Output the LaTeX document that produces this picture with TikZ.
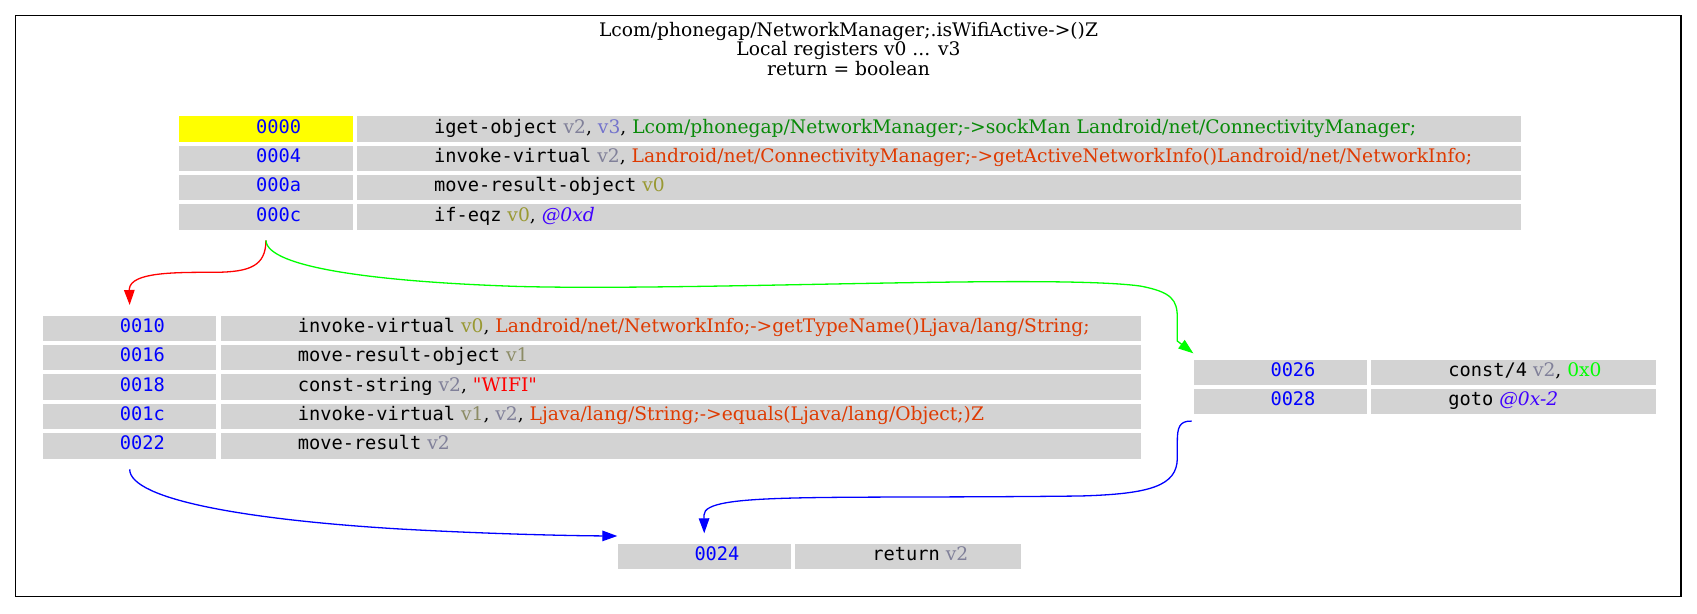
\documentclass[tikz,border=0pt]{standalone}
\usepackage{fontspec}
\setmainfont{DejaVu Serif}
\setmonofont{DejaVu Sans Mono}
\newfontfamily\plainserif{DejaVu Serif}
\usetikzlibrary{calc,arrows.meta}
\definecolor{rv0}{RGB}{153,153,51}
\definecolor{rv1}{RGB}{140,140,102}
\definecolor{rv2}{RGB}{128,128,153}
\definecolor{rv3}{RGB}{115,115,204}
\definecolor{cmeth}{HTML}{DF3A01}
\definecolor{cfield}{HTML}{088A08}
\definecolor{coff}{HTML}{4000FF}
\definecolor{clit}{HTML}{00FF00}
\definecolor{cstr}{HTML}{FF0000}
\definecolor{cidx}{HTML}{0000FF}
\definecolor{cbg}{HTML}{D3D3D3}
\definecolor{cstart}{HTML}{FFFF00}
\definecolor{ctrue}{HTML}{00FF00}
\definecolor{cfalse}{HTML}{FF0000}
\definecolor{cjump}{HTML}{0000FF}
\newcommand\mn[1]{{\ttfamily #1}}
\newcommand\insrow[7]{%
  \node[cellbox, fill=#5, minimum width=173.5pt, anchor=north west] (#1i) at (#2,#3) {};
  \node[celltxt, text=cidx] (#1it) at ($(#1i.north west)+(77,17)$) {\ttfamily #6};
  \node[cellbox, minimum width=#4pt, anchor=north west] (#1c) at ($(#1i.north east)+(4,0)$) {};
  \node[celltxt] (#1ct) at ($(#1c.north west)+(77,17)$) {#7};
}
\begin{document}
\begin{tikzpicture}[x=1pt,y=-1pt,
  cellbox/.style={draw=none, fill=cbg, inner sep=0pt, minimum height=25.4pt},
  celltxt/.style={inner sep=0pt, anchor=base west, font=\fontsize{18.67}{21}\selectfont},
  titletxt/.style={inner sep=0pt, anchor=base, font=\fontsize{18.67}{21}\selectfont},
  edge/.style={line width=1.3pt, -{Triangle[length=15pt,width=10.5pt]}}]
\useasboundingbox (0,0) rectangle (1697,613);
\draw[line width=1.5pt] (15.7,15.7) rectangle (1680.8,596.7);
\node[titletxt] (t1) at (848.5,36) {Lcom/phonegap/NetworkManager;.isWifiActive->()Z};
\node[titletxt] (t2) at (848.5,55.5) {Local registers v0 ... v3};
\node[titletxt] (t3) at (848.5,75) {return = boolean};
% block 1
\insrow{b1r0}{179}{116}{1163.5}{cstart}{0000}{\mn{iget-object} \textcolor{rv2}{v2}, \textcolor{rv3}{v3}, \textcolor{cfield}{Lcom/phonegap/NetworkManager;->sockMan Landroid/net/ConnectivityManager;}}
\insrow{b1r1}{179}{145.4}{1163.5}{cbg}{0004}{\mn{invoke-virtual} \textcolor{rv2}{v2}, \textcolor{cmeth}{Landroid/net/ConnectivityManager;->getActiveNetworkInfo()Landroid/net/NetworkInfo;}}
\insrow{b1r2}{179}{174.8}{1163.5}{cbg}{000a}{\mn{move-result-object} \textcolor{rv0}{v0}}
\insrow{b1r3}{179}{204.2}{1163.5}{cbg}{000c}{\mn{if-eqz} \textcolor{rv0}{v0}, \textit{\textcolor{coff}{@0xd}}}
% block 2
\insrow{b2r0}{42.7}{315.3}{919.8}{cbg}{0010}{\mn{invoke-virtual} \textcolor{rv0}{v0}, \textcolor{cmeth}{Landroid/net/NetworkInfo;->getTypeName()Ljava/lang/String;}}
\insrow{b2r1}{42.7}{344.7}{919.8}{cbg}{0016}{\mn{move-result-object} \textcolor{rv1}{v1}}
\insrow{b2r2}{42.7}{374.1}{919.8}{cbg}{0018}{\mn{const-string} \textcolor{rv2}{v2}, \textcolor{cstr}{\plainserif "WIFI"}}
\insrow{b2r3}{42.7}{403.5}{919.8}{cbg}{001c}{\mn{invoke-virtual} \textcolor{rv1}{v1}, \textcolor{rv2}{v2}, \textcolor{cmeth}{Ljava/lang/String;->equals(Ljava/lang/Object;)Z}}
\insrow{b2r4}{42.7}{432.9}{919.8}{cbg}{0022}{\mn{move-result} \textcolor{rv2}{v2}}
% block 3
\insrow{b3r0}{1193.3}{359.3}{285}{cbg}{0026}{\mn{const/4} \textcolor{rv2}{v2}, \textcolor{clit}{0x0}}
\insrow{b3r1}{1193.3}{388.7}{285}{cbg}{0028}{\mn{goto} \textit{\textcolor{coff}{@0x-2}}}
% block 4
\insrow{b4r0}{617.3}{543.3}{225.2}{cbg}{0024}{\mn{return} \textcolor{rv2}{v2}}
% edges
\draw[edge, cfalse] ([yshift=-10.4pt]b1r3i.south) .. controls (265.75,266) and (250,272) .. (215,272.3) .. controls (175,272.3) and (131,272) .. (129.3,289) -- ([yshift=10.3pt]b2r0i.north);
\draw[edge, ctrue] ([yshift=-10.4pt]b1r3i.south) .. controls (267,268) and (380,282) .. (520,286.5) .. controls (700,291) and (1050,274) .. (1140,286) .. controls (1172,292) and (1177.3,300) .. (1177.3,318) -- (1177.3,341) -- ([yshift=6pt]b3r0i.north west);
\draw[edge, cjump] ([yshift=-10.6pt]b2r4i.south) .. controls (130,500) and (250,520) .. (400,529) .. controls (480,533.5) and (560,535.6) .. (600,535.9) -- ([yshift=7.3pt]b4r0i.north west);
\draw[edge, cjump] ([shift={(-1.6pt,-6.6pt)}]b3r1i.south west) .. controls (1179,420.7) and (1177.3,428) .. (1177.3,442) -- (1177.3,458) .. controls (1177.3,486) and (1150,494) .. (1080,496) .. controls (820,499) and (704,492) .. (704,515) -- ([yshift=10pt]b4r0i.north);
\end{tikzpicture}
\end{document}
